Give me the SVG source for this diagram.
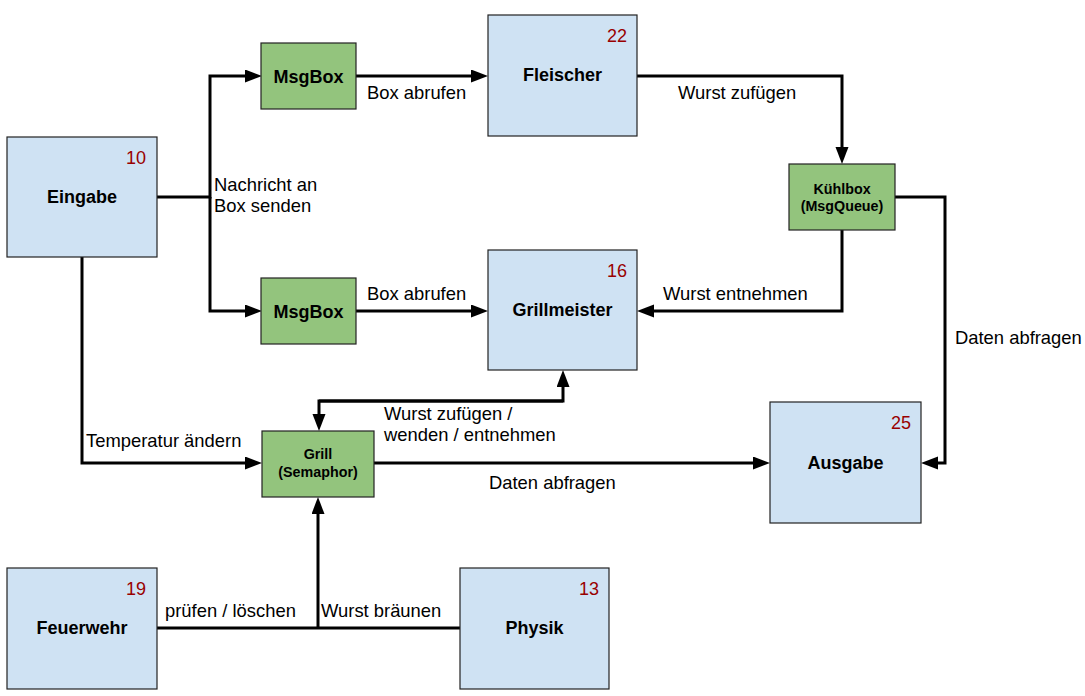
<svg xmlns="http://www.w3.org/2000/svg" width="1085" height="696" viewBox="0 0 1085 696">
<style>
.blue{fill:#cfe2f3;stroke:#222;stroke-width:1.2}
.green{fill:#93c47d;stroke:#222;stroke-width:1.2}
.lbl{font-family:"Liberation Sans",Arial,sans-serif;font-weight:bold;font-size:18px;fill:#000;text-anchor:middle}
.sm{font-family:"Liberation Sans",Arial,sans-serif;font-weight:bold;font-size:14.3px;fill:#000;text-anchor:middle}
.num{font-family:"Liberation Sans",Arial,sans-serif;font-size:18px;fill:#990000;text-anchor:end}
.edge{font-family:"Liberation Sans",Arial,sans-serif;font-size:18.4px;fill:#000}
.c{fill:none;stroke:#000;stroke-width:3;stroke-linejoin:miter}
</style>
<defs>
<marker id="arr" markerUnits="userSpaceOnUse" markerWidth="20" markerHeight="14" refX="2" refY="6.5" orient="auto">
<path d="M0,0 L17,6.5 L0,13 z" fill="#000"/>
</marker>
</defs>
<g id="connectors">
<path class="c" d="M157,197 H210 V76 H247" marker-end="url(#arr)"/>
<path class="c" d="M210,197 V311 H247" marker-end="url(#arr)"/>
<path class="c" d="M356,76 H473" marker-end="url(#arr)"/>
<path class="c" d="M356,311 H473" marker-end="url(#arr)"/>
<path class="c" d="M637,76 H842 V149" marker-end="url(#arr)"/>
<path class="c" d="M842,230 V311 H652" marker-end="url(#arr)"/>
<path class="c" d="M895,197 H945 V463 H936" marker-end="url(#arr)"/>
<path class="c" d="M82,257 V463 H247" marker-end="url(#arr)"/>
<path class="c" d="M374,463 H755" marker-end="url(#arr)"/>
<path class="c" d="M319,401 H563 V385" marker-end="url(#arr)"/>
<path class="c" d="M563,401 H319 V416" marker-end="url(#arr)"/>
<path class="c" d="M157,628 H460"/>
<path class="c" d="M318,628 V512" marker-end="url(#arr)"/>
<text class="edge" x="214" y="191">Nachricht an</text>
<text class="edge" x="214" y="212">Box senden</text>
<text class="edge" x="367" y="99">Box abrufen</text>
<text class="edge" x="367" y="300">Box abrufen</text>
<text class="edge" x="678" y="99">Wurst zufügen</text>
<text class="edge" x="663" y="300">Wurst entnehmen</text>
<text class="edge" x="955" y="344">Daten abfragen</text>
<text class="edge" x="86" y="447">Temperatur ändern</text>
<text class="edge" x="384" y="420">Wurst zufügen /</text>
<text class="edge" x="384" y="441">wenden / entnehmen</text>
<text class="edge" x="489" y="489">Daten abfragen</text>
<text class="edge" x="165" y="617">prüfen / löschen</text>
<text class="edge" x="321" y="617">Wurst bräunen</text>
</g>
<g id="eingabe">
<rect class="blue" x="7" y="137" width="150" height="120"/>
<text class="num" x="146" y="164">10</text>
<text class="lbl" x="82" y="203">Eingabe</text>
</g>
<g id="msgbox1">
<rect class="green" x="261" y="43" width="95" height="66"/>
<text class="lbl" x="308.5" y="83">MsgBox</text>
</g>
<g id="msgbox2">
<rect class="green" x="261" y="278" width="95" height="66"/>
<text class="lbl" x="308.5" y="318">MsgBox</text>
</g>
<g id="fleischer">
<rect class="blue" x="488" y="15" width="149" height="121"/>
<text class="num" x="627" y="42">22</text>
<text class="lbl" x="562.5" y="81">Fleischer</text>
</g>
<g id="kuehlbox">
<rect class="green" x="789" y="164" width="106" height="66"/>
<text class="sm" x="842" y="194">Kühlbox</text>
<text class="sm" x="842" y="211">(MsgQueue)</text>
</g>
<g id="grillmeister">
<rect class="blue" x="488" y="250" width="149" height="120"/>
<text class="num" x="627" y="277">16</text>
<text class="lbl" x="562.5" y="316">Grillmeister</text>
</g>
<g id="grill">
<rect class="green" x="262" y="431" width="112" height="66"/>
<text class="sm" x="318" y="459">Grill</text>
<text class="sm" x="318" y="477">(Semaphor)</text>
</g>
<g id="ausgabe">
<rect class="blue" x="770" y="402" width="151" height="121"/>
<text class="num" x="911" y="429">25</text>
<text class="lbl" x="845.5" y="469">Ausgabe</text>
</g>
<g id="feuerwehr">
<rect class="blue" x="7" y="568" width="150" height="121"/>
<text class="num" x="146" y="595">19</text>
<text class="lbl" x="82" y="634">Feuerwehr</text>
</g>
<g id="physik">
<rect class="blue" x="460" y="568" width="149" height="121"/>
<text class="num" x="599" y="595">13</text>
<text class="lbl" x="534.5" y="634">Physik</text>
</g>
</svg>
